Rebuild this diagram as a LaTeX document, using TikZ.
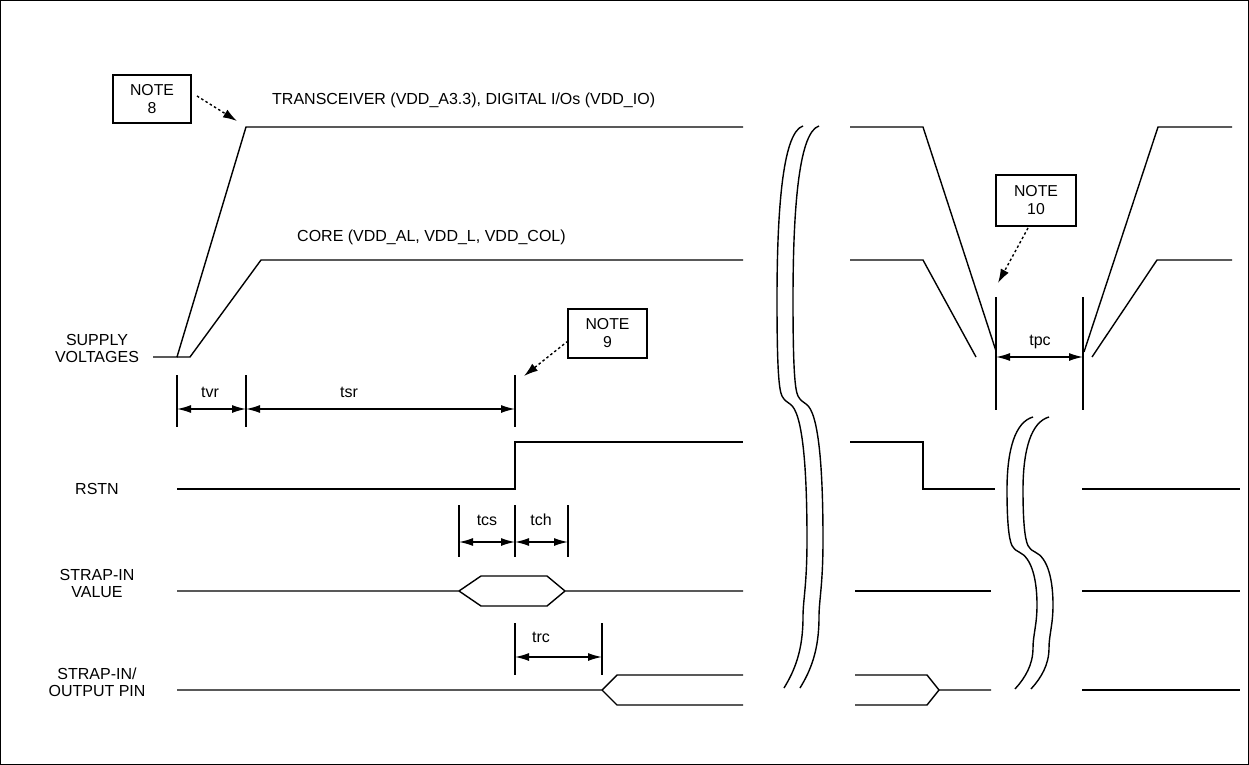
\documentclass[tikz,border=0pt]{standalone}
\usepackage{fontspec}
\setmainfont{Liberation Sans}
\usetikzlibrary{arrows.meta}
\begin{document}
\begin{tikzpicture}[x=1bp,y=-1bp,
  wave/.style={line width=1.4bp, line join=miter},
  dimline/.style={line width=1.4bp},
  dimarrow/.style={line width=1.4bp, {Latex[length=14bp,width=8bp]}-{Latex[length=14bp,width=8bp]}},
  notebox/.style={draw, line width=1.4bp, minimum width=78bp, minimum height=48bp, align=center, inner sep=0pt, font=\fontsize{15.8bp}{18bp}\selectfont},
  lbl/.style={font=\fontsize{16bp}{17bp}\selectfont, inner sep=0pt, align=center},
  noteptr/.style={line width=1.4bp, dash pattern=on 2.5bp off 2.5bp, -{Latex[length=14bp,width=9bp]}},
  brk/.style={line width=1.4bp}
]
\useasboundingbox (0,0) rectangle (1249,765);
\draw[line width=1.5bp] (0.75,0.75) rectangle (1248.25,764.25);

% left signal labels
\node[lbl] (lsup) at (97,348) {SUPPLY\\VOLTAGES};
\node[lbl] (lrst) at (97,489) {RSTN};
\node[lbl] (lsv) at (97,583) {STRAP-IN\\VALUE};
\node[lbl] (lso) at (97,682) {STRAP-IN/\\OUTPUT PIN};

% supply voltages, left part
\draw[wave] (153,357) -- (177,357) -- (246,127) -- (743,127);
\draw[wave] (177,357) -- (190,357) -- (261,260) -- (743,260);
\node[lbl, anchor=west] (ttx) at (272,100) {TRANSCEIVER (VDD\_A3.3), DIGITAL I/Os (VDD\_IO)};
\node[lbl, anchor=west] (tcore) at (297,237) {CORE (VDD\_AL, VDD\_L, VDD\_COL)};

% supply voltages, right part
\draw[wave] (850,127) -- (923,127) -- (996,351);
\draw[wave] (1084,352) -- (1158,127) -- (1232,127);
\draw[wave] (850,260) -- (923,260) -- (976,357);
\draw[wave] (1092,357) -- (1157,260) -- (1232,260);

% RSTN
\draw[wave] (177,489) -- (515,489) -- (515,442) -- (743,442);
\draw[wave] (850,442) -- (923,442) -- (923,489) -- (995,489);
\draw[wave] (1082,489) -- (1240,489);

% strap-in value
\draw[wave] (177,591) -- (459,591) -- (481,576) -- (547,576) -- (565,591) -- (743,591);
\draw[wave] (459,591) -- (481,606) -- (547,606) -- (565,591);
\draw[wave] (855,591) -- (991,591);
\draw[wave] (1082,591) -- (1240,591);

% strap-in / output pin
\draw[wave] (177,690) -- (602,690) -- (617,675) -- (743,675);
\draw[wave] (602,690) -- (617,705) -- (743,705);
\draw[wave] (855,675) -- (927,675) -- (939,690) -- (991,690);
\draw[wave] (855,705) -- (927,705) -- (939,690);
\draw[wave] (1082,690) -- (1240,690);

% tvr / tsr
\coordinate (a1) at (177,409); \coordinate (a2) at (246,409); \coordinate (a3) at (515,409);
\draw[dimline] (177,375) -- (177,427);
\draw[dimline] (246,375) -- (246,427);
\draw[dimline] (515,375) -- (515,427);
\draw[dimarrow] (a1) -- (a2);
\draw[dimarrow] (a2) -- (a3);
\node[lbl] (ltvr) at (210,392) {tvr};
\node[lbl] (ltsr) at (349,392) {tsr};

% tcs / tch
\coordinate (b1) at (459,542); \coordinate (b2) at (515,542); \coordinate (b3) at (568,542);
\draw[dimline] (459,505) -- (459,557);
\draw[dimline] (515,505) -- (515,557);
\draw[dimline] (568,505) -- (568,557);
\draw[dimarrow] (b1) -- (b2);
\draw[dimarrow] (b2) -- (b3);
\node[lbl] (ltcs) at (487,520) {tcs};
\node[lbl] (ltch) at (541,520) {tch};

% trc
\coordinate (c1) at (515,657); \coordinate (c2) at (602,657);
\draw[dimline] (515,623) -- (515,675);
\draw[dimline] (602,623) -- (602,675);
\draw[dimarrow] (c1) -- (c2);
\node[lbl] (ltrc) at (541,637) {trc};

% tpc
\coordinate (d1) at (996,357); \coordinate (d2) at (1083,357);
\draw[dimline] (996,297) -- (996,410);
\draw[dimline] (1083,297) -- (1083,410);
\draw[dimarrow] (d1) -- (d2);
\node[lbl] (ltpc) at (1040,342) {tpc};

% notes
\node[notebox] (n8) at (152,99) {NOTE\\8};
\node[notebox, minimum width=79bp, minimum height=49bp] (n9) at (607.5,333.5) {NOTE\\9};
\node[notebox, minimum width=80bp, minimum height=51bp] (n10) at (1036,200.5) {NOTE\\10};
\coordinate (n8s) at (197,96); \coordinate (n8t) at (237,121);
\coordinate (n9s) at (568,341); \coordinate (n9t) at (524,376);
\coordinate (n10s) at (1028,228); \coordinate (n10t) at (998,283);
\draw[noteptr] (n8s) -- (n8t);
\draw[noteptr] (n9s) -- (n9t);
\draw[noteptr] (n10s) -- (n10t);

% big break symbol
\foreach \s in {0,16} {
  \draw[brk, xshift=\s bp] (803,126) .. controls (784,132) and (777,200) .. (777,300)
    .. controls (777,370) and (779,390) .. (782,396)
    .. controls (784,400) and (787,402) .. (790,404)
    .. controls (803,412) and (807,470) .. (807,540)
    .. controls (807,585) and (803,600) .. (803,617)
    .. controls (803,650) and (795,670) .. (784,688);
}
% small break symbol
\foreach \s in {0,16} {
  \draw[brk, xshift=\s bp] (1033,417) .. controls (1015,422) and (1007,450) .. (1007,490)
    .. controls (1007,530) and (1010,544) .. (1013,547)
    .. controls (1015,550) and (1017,551) .. (1019,552)
    .. controls (1032,558) and (1037,580) .. (1037,605)
    .. controls (1037,625) and (1033,635) .. (1033,648)
    .. controls (1033,665) and (1025,678) .. (1015,689);
}
\end{tikzpicture}
\end{document}
